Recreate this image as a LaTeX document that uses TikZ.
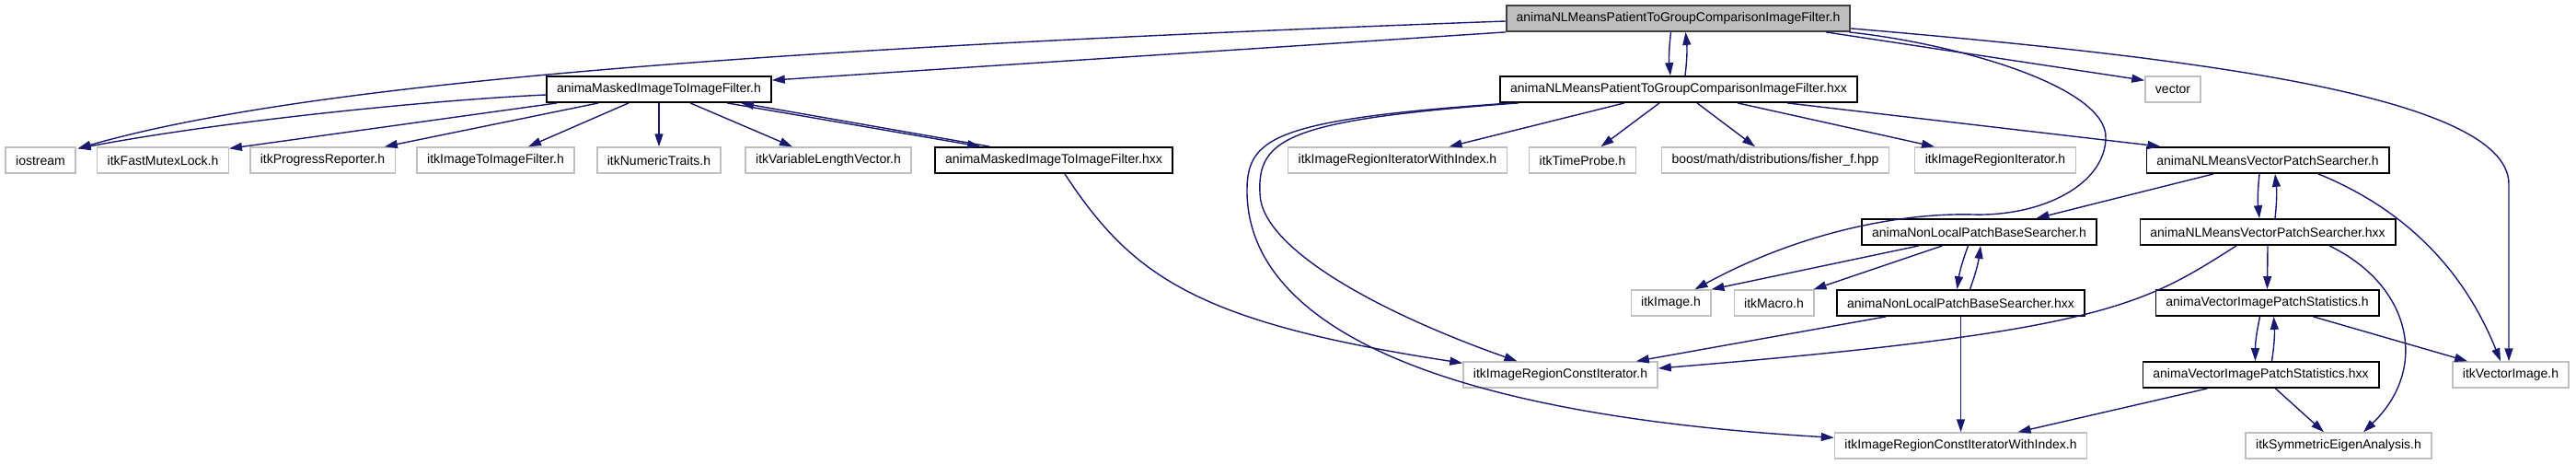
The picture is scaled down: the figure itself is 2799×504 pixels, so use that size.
\documentclass[tikz,border=0pt]{standalone}
\usepackage{fontspec}
\setmainfont{Liberation Sans}
\usetikzlibrary{arrows.meta,positioning,calc}
\definecolor{edgeblue}{HTML}{191970}
\definecolor{boxgrey}{HTML}{BFBFBF}
\definecolor{rimgrey}{HTML}{404040}
\tikzset{hdr/.style={draw=black,fill=white,line width=0.9pt,minimum height=14pt,
  inner xsep=5.5pt,inner ysep=0pt,font=\fontsize{7pt}{8pt}\selectfont},
  sys/.style={hdr,draw=boxgrey,line width=0.7pt},
  focus/.style={hdr,fill=boxgrey,draw=rimgrey},
  dep/.style={-{Triangle[length=7pt,width=4.5pt]},line width=0.7pt,draw=edgeblue}}

\begin{document}
\begin{tikzpicture}[x=0.5pt,y=-0.5pt]
\useasboundingbox (0,0) rectangle (2799,504);
% files
\node[focus] (main) at (1823.5,20) {animaNLMeansPatientToGroupComparisonImageFilter.h};
\node[hdr] (mask) at (716,97) {animaMaskedImageToImageFilter.h};
\node[hdr] (mainx) at (1824,97) {animaNLMeansPatientToGroupComparisonImageFilter.hxx};
\node[sys] (vector) at (2361,97) {vector};
\node[sys] (iostream) at (44,174) {iostream};
\node[sys] (mutex) at (177,174) {itkFastMutexLock.h};
\node[sys] (progress) at (350.5,174) {itkProgressReporter.h};
\node[sys] (imgfilt) at (538.5,174) {itkImageToImageFilter.h};
\node[sys] (numtraits) at (716,174) {itkNumericTraits.h};
\node[sys] (varvec) at (900,174) {itkVariableLengthVector.h};
\node[hdr] (maskx) at (1145,174) {animaMaskedImageToImageFilter.hxx};
\node[sys] (itwi) at (1518.5,174) {itkImageRegionIteratorWithIndex.h};
\node[sys] (probe) at (1719.5,174) {itkTimeProbe.h};
\node[sys] (boost) at (1929,174) {boost/math/distributions/fisher\_f.hpp};
\node[sys] (regit) at (2168,174) {itkImageRegionIterator.h};
\node[hdr] (vps) at (2464,174) {animaNLMeansVectorPatchSearcher.h};
\node[hdr] (nlpb) at (2150.5,252) {animaNonLocalPatchBaseSearcher.h};
\node[hdr] (vpsx) at (2464,252) {animaNLMeansVectorPatchSearcher.hxx};
\node[sys] (image) at (1815.5,329) {itkImage.h};
\node[sys] (macro) at (1927.5,329) {itkMacro.h};
\node[hdr] (nlpbx) at (2130.5,329) {animaNonLocalPatchBaseSearcher.hxx};
\node[hdr] (vips) at (2463.5,329) {animaVectorImagePatchStatistics.h};
\node[sys] (rci) at (1695.5,407) {itkImageRegionConstIterator.h};
\node[hdr] (vipsx) at (2456.5,407) {animaVectorImagePatchStatistics.hxx};
\node[sys] (vecimg) at (2728,407) {itkVectorImage.h};
\node[sys] (rciwi) at (2130.5,484) {itkImageRegionConstIteratorWithIndex.h};
\node[sys] (eigen) at (2541,484) {itkSymmetricEigenAnalysis.h};
% includes of the main header
\draw[dep] (main.south west) -- ([yshift=-2.5pt]mask.north east);
\draw[dep] ([yshift=-1.5pt]main.west) .. controls (900,50) and (350,85) .. ([xshift=1pt,yshift=-1pt]iostream.north east);
\draw[dep] ([xshift=-4pt]main.south) to[bend right=6] ([xshift=-4.5pt]mainx.north);
\draw[dep] ([xshift=3.5pt]mainx.north) to[bend right=6] ([xshift=4pt]main.south);
\draw[dep] ([xshift=-13.5pt]main.south east) -- ([yshift=-2.5pt]vector.north west);
\draw[dep] ([yshift=2pt]main.south east) .. controls (2350,60) and (2726,100) .. (2726,200) -- ([xshift=-1pt]vecimg.north);
\draw[dep] ([xshift=-1pt]main.south east) .. controls (2130,48) and (2290,95) .. (2288,150)
  .. controls (2287,200) and (2220,235) .. (2144,233) .. controls (2070,231) and (1960,250) .. ([xshift=-9pt]image.north east);
% animaMaskedImageToImageFilter
\draw[dep] ([yshift=-3pt]mask.west) .. controls (480,108) and (250,130) .. ([xshift=1pt,yshift=-1pt]iostream.north east);
\draw[dep] ([xshift=6pt]mask.south west) -- ([yshift=-1pt]mutex.north east);
\draw[dep] ([xshift=28.5pt]mask.south west) -- ([xshift=-6pt]progress.north east);
\draw[dep] ([xshift=-16.5pt]mask.south) -- ([xshift=17.75pt]imgfilt.north);
\draw[dep] (mask.south) -- (numtraits.north);
\draw[dep] ([xshift=17pt]mask.south) -- ([xshift=-19.5pt]varvec.north);
\draw[dep] ([xshift=37pt]mask.south) -- ([xshift=25pt]maskx.north west);
\draw[dep] ([xshift=30pt]maskx.north west) -- ([xshift=44.5pt]mask.south);
\draw[dep] ([xshift=6pt]maskx.south) .. controls (1230,300) and (1300,350) .. ([yshift=-1pt]rci.north west);
% animaNLMeansPatientToGroupComparisonImageFilter.hxx
\draw[dep] ([xshift=-29.5pt]mainx.south) -- ([xshift=28pt]itwi.north);
\draw[dep] ([xshift=-10.5pt]mainx.south) -- ([xshift=10pt]probe.north);
\draw[dep] ([xshift=10pt]mainx.south) -- ([xshift=-11pt]boost.north);
\draw[dep] ([xshift=32pt]mainx.south) -- ([xshift=-33pt]regit.north);
\draw[dep] ([xshift=59pt]mainx.south) -- ([xshift=8pt]vps.north west);
\draw[dep] ([xshift=-87pt]mainx.south) .. controls (1400,130) and (1366,150) .. (1369,210)
  .. controls (1370,270) and (1500,340) .. ([xshift=-23.5pt]rci.north);
\draw[dep] ([xshift=-91pt]mainx.south) .. controls (1380,130) and (1354,150) .. (1355,210)
  .. controls (1357,320) and (1480,445) .. ([yshift=-3pt]rciwi.north west);
% searchers
\draw[dep] ([xshift=-29.5pt]vps.south) -- ([xshift=31pt]nlpb.north);
\draw[dep] ([xshift=-4.5pt]vps.south) to[bend right=6] ([xshift=-4.5pt]vpsx.north);
\draw[dep] ([xshift=4pt]vpsx.north) to[bend right=6] ([xshift=4pt]vps.south);
\draw[dep] ([xshift=27.5pt]vps.south) .. controls (2620,230) and (2680,300) .. ([xshift=-5.5pt]vecimg.north);
\draw[dep] (vpsx.south) -- (vips.north);
\draw[dep] ([xshift=-17pt]vpsx.south) .. controls (2330,330) and (2290,360) .. ([yshift=3.5pt]rci.east);
\draw[dep] ([xshift=33.5pt]vpsx.south) .. controls (2620,310) and (2640,400) .. ([xshift=13.5pt]eigen.north);
\draw[dep] ([xshift=-32.75pt]nlpb.south) -- (image.north east);
\draw[dep] ([xshift=-20pt]nlpb.south) -- ([xshift=-0.5pt]macro.north east);
\draw[dep] ([xshift=-6pt]nlpb.south) to[bend right=6] ([xshift=-2pt]nlpbx.north);
\draw[dep] ([xshift=5pt]nlpbx.north) to[bend right=6] ([xshift=0.75pt]nlpb.south);
\draw[dep] ([xshift=-40.75pt]nlpbx.south) -- ([xshift=-12pt]rci.north east);
\draw[dep] (nlpbx.south) -- (rciwi.north);
% statistics
\draw[dep] ([xshift=-4pt]vips.south) to[bend right=6] ([xshift=-3pt]vipsx.north);
\draw[dep] ([xshift=6pt]vipsx.north) to[bend right=6] ([xshift=3.5pt]vips.south);
\draw[dep] ([xshift=25pt]vips.south) -- ([xshift=8.5pt]vecimg.north west);
\draw[dep] ([xshift=-29pt]vipsx.south) -- ([xshift=31pt]rciwi.north);
\draw[dep] ([xshift=8pt]vipsx.south) -- ([xshift=-8pt]eigen.north);
\end{tikzpicture}
\end{document}
